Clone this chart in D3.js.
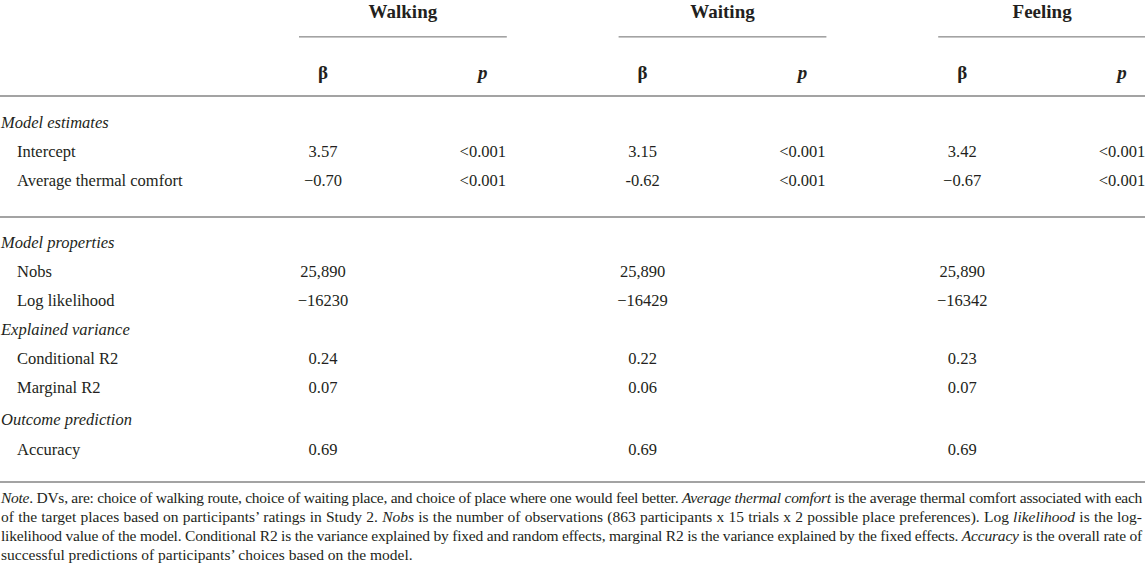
<!DOCTYPE html>
<html>
<head>
<meta charset="utf-8">
<script src="https://cdn.jsdelivr.net/npm/d3@7"></script>
<style>
  html, body { margin: 0; padding: 0; background: #fff; }
  svg { display: block; }
</style>
</head>
<body>
<svg id="chart" width="1145" height="566"></svg>
<script>
// ---------- data ----------
const groups = ["Walking", "Waiting", "Feeling"];
const subHeaders = ["β", "p"];

const estimateLabels = ["Intercept", "Average thermal comfort"];
const walkingBeta = ["3.57", "\u22120.70"];
const walkingP = ["<0.001", "<0.001"];
const waitingBeta = ["3.15", "-0.62"];
const waitingP = ["<0.001", "<0.001"];
const feelingBeta = ["3.42", "\u22120.67"];
const feelingP = ["<0.001", "<0.001"];

const sectionLabels = ["Model estimates", "Model properties", "Explained variance", "Outcome prediction"];
const propertyLabels = ["Nobs", "Log likelihood", "Conditional R2", "Marginal R2", "Accuracy"];
const walkingProps = ["25,890", "\u221216230", "0.24", "0.07", "0.69"];
const waitingProps = ["25,890", "\u221216429", "0.22", "0.06", "0.69"];
const feelingProps = ["25,890", "\u221216342", "0.23", "0.07", "0.69"];

// note lines: segments [text, italic]
const noteLines = [
  [["Note", true], [". DVs, are: choice of walking route, choice of waiting place, and choice of place where one would feel better. ", false], ["Average thermal comfort", true], [" is the average thermal comfort associated with each", false]],
  [["of the target places based on participants\u2019 ratings in Study 2. ", false], ["Nobs", true], [" is the number of observations (863 participants x 15 trials x 2 possible place preferences). Log ", false], ["likelihood", true], [" is the log-", false]],
  [["likelihood value of the model. Conditional R2 is the variance explained by fixed and random effects, marginal R2 is the variance explained by the fixed effects. ", false], ["Accuracy", true], [" is the overall rate of", false]],
  [["successful predictions of participants\u2019 choices based on the model.", false]]
];

// ---------- layout ----------
const W = 1145, H = 566;
const svg = d3.select("#chart");
const font = "'Liberation Serif', 'Times New Roman', serif";
const ink = "#231f20";
const ruleColor = "#a3a3a3";

const colKeys = [];
groups.forEach(g => subHeaders.forEach(s => colKeys.push(g + "|" + s)));
const x = d3.scalePoint().domain(colKeys).range([323, 1122]);

const groupSpan = g => {
  const a = x(g + "|β"), b = x(g + "|p");
  return [a - 24, Math.min(b + 24, W)];
};

// row scale: index -> baseline y
const y = d3.scaleLinear().domain([0, 1]).range([127.5, 156.5]);

const rows = [];
rows.push({ idx: 0, label: sectionLabels[0], section: true });
estimateLabels.forEach((l, i) => rows.push({
  idx: 1 + i, label: l,
  vals: [walkingBeta[i], walkingP[i], waitingBeta[i], waitingP[i], feelingBeta[i], feelingP[i]]
}));
const off2 = 4.17;
rows.push({ idx: off2, label: sectionLabels[1], section: true });
[0, 1].forEach(i => rows.push({ idx: off2 + 1 + i, label: propertyLabels[i], props: [walkingProps[i], waitingProps[i], feelingProps[i]] }));
rows.push({ idx: off2 + 3, label: sectionLabels[2], section: true });
[2, 3].forEach((i, k) => rows.push({ idx: off2 + 4 + k, label: propertyLabels[i], props: [walkingProps[i], waitingProps[i], feelingProps[i]] }));
rows.push({ idx: off2 + 6.08, label: sectionLabels[3], section: true });
const lastIdx = off2 + 7.12;
rows.push({ idx: lastIdx, label: propertyLabels[4], props: [walkingProps[4], waitingProps[4], feelingProps[4]] });

// full-width rules
const rulesY = [96, (y(2) + y(off2)) / 2, y(lastIdx) + 27];
svg.append("g").selectAll("rect.rule").data(rulesY).join("rect")
  .attr("class", "rule")
  .attr("x", 0).attr("width", W)
  .attr("y", d => Math.round(d) - 1).attr("height", 2)
  .attr("fill", ruleColor);

// header
groups.forEach(g => {
  const [a, b] = groupSpan(g);
  svg.append("text")
    .attr("x", (x(g + "|β") + x(g + "|p")) / 2)
    .attr("y", 18)
    .attr("text-anchor", "middle")
    .attr("font-family", font).attr("font-weight", "bold").attr("font-size", 19)
    .attr("fill", ink).text(g);
  svg.append("rect")
    .attr("x", a).attr("width", b - a).attr("y", 36).attr("height", 1.6)
    .attr("fill", ruleColor);
  subHeaders.forEach(s => {
    svg.append("text")
      .attr("x", x(g + "|" + s))
      .attr("y", 79)
      .attr("text-anchor", "middle")
      .attr("font-family", font).attr("font-weight", "bold")
      .attr("font-style", s === "p" ? "italic" : "normal")
      .attr("font-size", 19)
      .attr("fill", ink).text(s);
  });
});

rows.forEach(r => {
  const yy = y(r.idx);
  svg.append("text")
    .attr("x", r.section ? 1 : 17).attr("y", yy)
    .attr("font-family", font).attr("font-size", 16.5)
    .attr("font-style", r.section ? "italic" : "normal")
    .attr("fill", ink).text(r.label);
  const vals = r.vals || [];
  vals.forEach((v, j) => {
    svg.append("text")
      .attr("x", x(colKeys[j])).attr("y", yy)
      .attr("text-anchor", "middle")
      .attr("font-family", font).attr("font-size", 16.5)
      .attr("fill", ink).text(v);
  });
  const props = r.props || [];
  props.forEach((v, j) => {
    svg.append("text")
      .attr("x", x(groups[j] + "|β")).attr("y", yy)
      .attr("text-anchor", "middle")
      .attr("font-family", font).attr("font-size", 16.5)
      .attr("fill", ink).text(v);
  });
});

// note
const noteTop = y(lastIdx) + 48;
noteLines.forEach((segs, li) => {
  const t = svg.append("text")
    .attr("x", 1).attr("y", noteTop + li * 19)
    .attr("font-family", font).attr("font-size", 15.5)
    .attr("fill", ink);
  segs.forEach(([s, it]) => {
    t.append("tspan").attr("font-style", it ? "italic" : "normal").text(s);
  });
  if (li < noteLines.length - 1) {
    const len = t.node().getComputedTextLength();
    const full = segs.map(d => d[0]).join("");
    const target = W - 4;
    const diff = target - len;
    const spaces = full.split(" ").length - 1;
    if (diff < 0) {
      t.attr("letter-spacing", diff / full.length);
      const len2 = t.node().getComputedTextLength();
      t.attr("word-spacing", (target - len2) / spaces);
    } else {
      t.attr("word-spacing", diff / spaces);
    }
  }
});
</script>
</body>
</html>
